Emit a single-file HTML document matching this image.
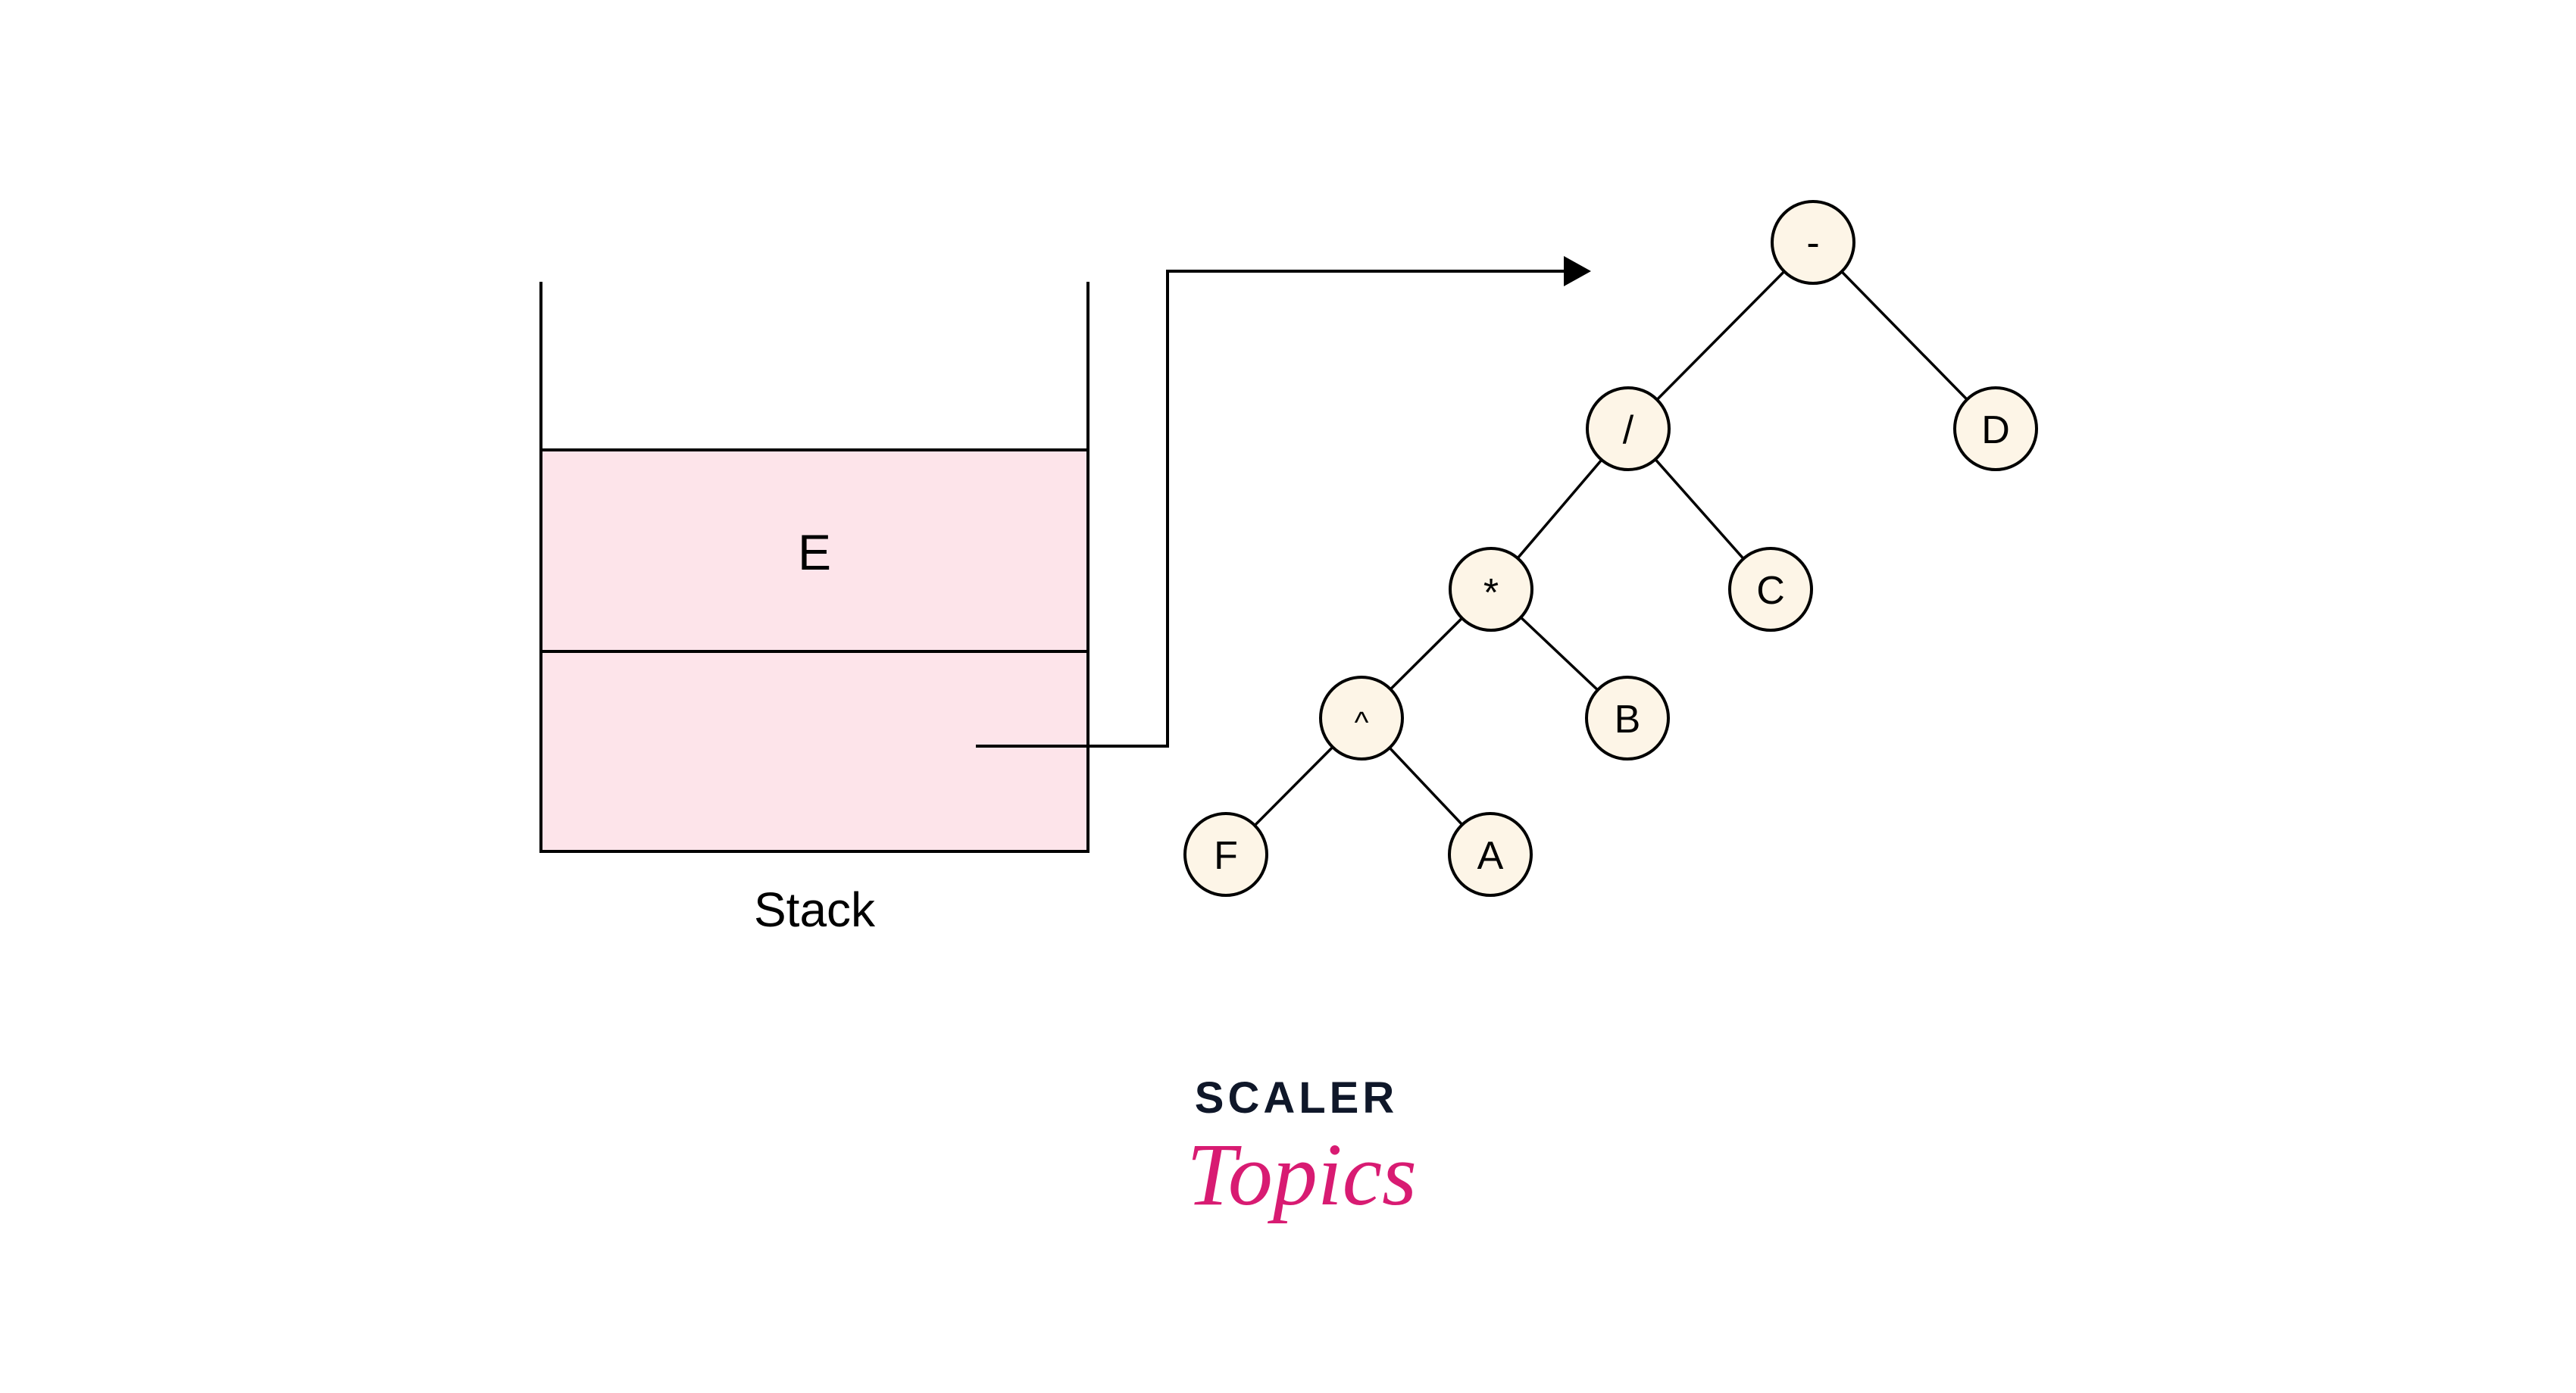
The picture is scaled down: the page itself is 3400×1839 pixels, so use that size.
<!DOCTYPE html>
<html><head><meta charset="utf-8"><style>
html,body{margin:0;padding:0;background:#fff;}
svg{display:block;}
</style></head><body>
<svg width="3400" height="1839" viewBox="0 0 3400 1839" xmlns="http://www.w3.org/2000/svg">
<rect width="3400" height="1839" fill="#fff"/>
<!-- stack -->
<rect x="714" y="594" width="722" height="530" fill="#fde4ea"/>
<g stroke="#000" stroke-width="4" fill="none">
<polyline points="714,372 714,1124 1436,1124 1436,372"/>
<line x1="714" y1="594" x2="1436" y2="594"/>
<line x1="714" y1="860" x2="1436" y2="860"/>
<polyline points="1288,985 1541,985 1541,358 2068,358"/>
</g>
<polygon points="2064,338 2100,358 2064,378" fill="#000"/>
<g font-family="Liberation Sans, sans-serif" fill="#000" text-anchor="middle">
<text x="1075" y="752" font-size="66">E</text>
<text x="1075" y="1223" font-size="64">Stack</text>
</g>
<!-- edges -->
<g stroke="#000" stroke-width="3.5">
<line x1="2393" y1="320" x2="2149" y2="566"/>
<line x1="2393" y1="320" x2="2634" y2="566"/>
<line x1="2149" y1="566" x2="1968" y2="778"/>
<line x1="2149" y1="566" x2="2337" y2="778"/>
<line x1="1968" y1="778" x2="1797" y2="948"/>
<line x1="1968" y1="778" x2="2148" y2="948"/>
<line x1="1797" y1="948" x2="1618" y2="1128"/>
<line x1="1797" y1="948" x2="1967" y2="1128"/>
</g>
<g stroke="#000" stroke-width="4" fill="#fdf5e7">
<circle cx="2393" cy="320" r="54"/>
<circle cx="2149" cy="566" r="54"/>
<circle cx="2634" cy="566" r="54"/>
<circle cx="1968" cy="778" r="54"/>
<circle cx="2337" cy="778" r="54"/>
<circle cx="1797" cy="948" r="54"/>
<circle cx="2148" cy="948" r="54"/>
<circle cx="1618" cy="1128" r="54"/>
<circle cx="1967" cy="1128" r="54"/>
</g>
<g font-family="Liberation Sans, sans-serif" fill="#000" text-anchor="middle" font-size="52">
<text x="2393" y="338">-</text>
<text x="2149" y="585">/</text>
<text x="2634" y="585">D</text>
<text x="1968" y="800">*</text>
<text x="2337" y="797">C</text>
<text x="1797" y="967" font-size="40">^</text>
<text x="2148" y="967">B</text>
<text x="1618" y="1147">F</text>
<text x="1967" y="1147">A</text>
</g>
<!-- logo -->
<text x="1711" y="1469" font-family="Liberation Sans, sans-serif" font-weight="bold" font-size="58" letter-spacing="5" fill="#0f1729" text-anchor="middle">SCALER</text>
<text x="1718" y="1590" font-family="Liberation Serif, serif" font-style="italic" font-size="118" fill="#d81b72" text-anchor="middle">Topics</text>
</svg>
</body></html>
